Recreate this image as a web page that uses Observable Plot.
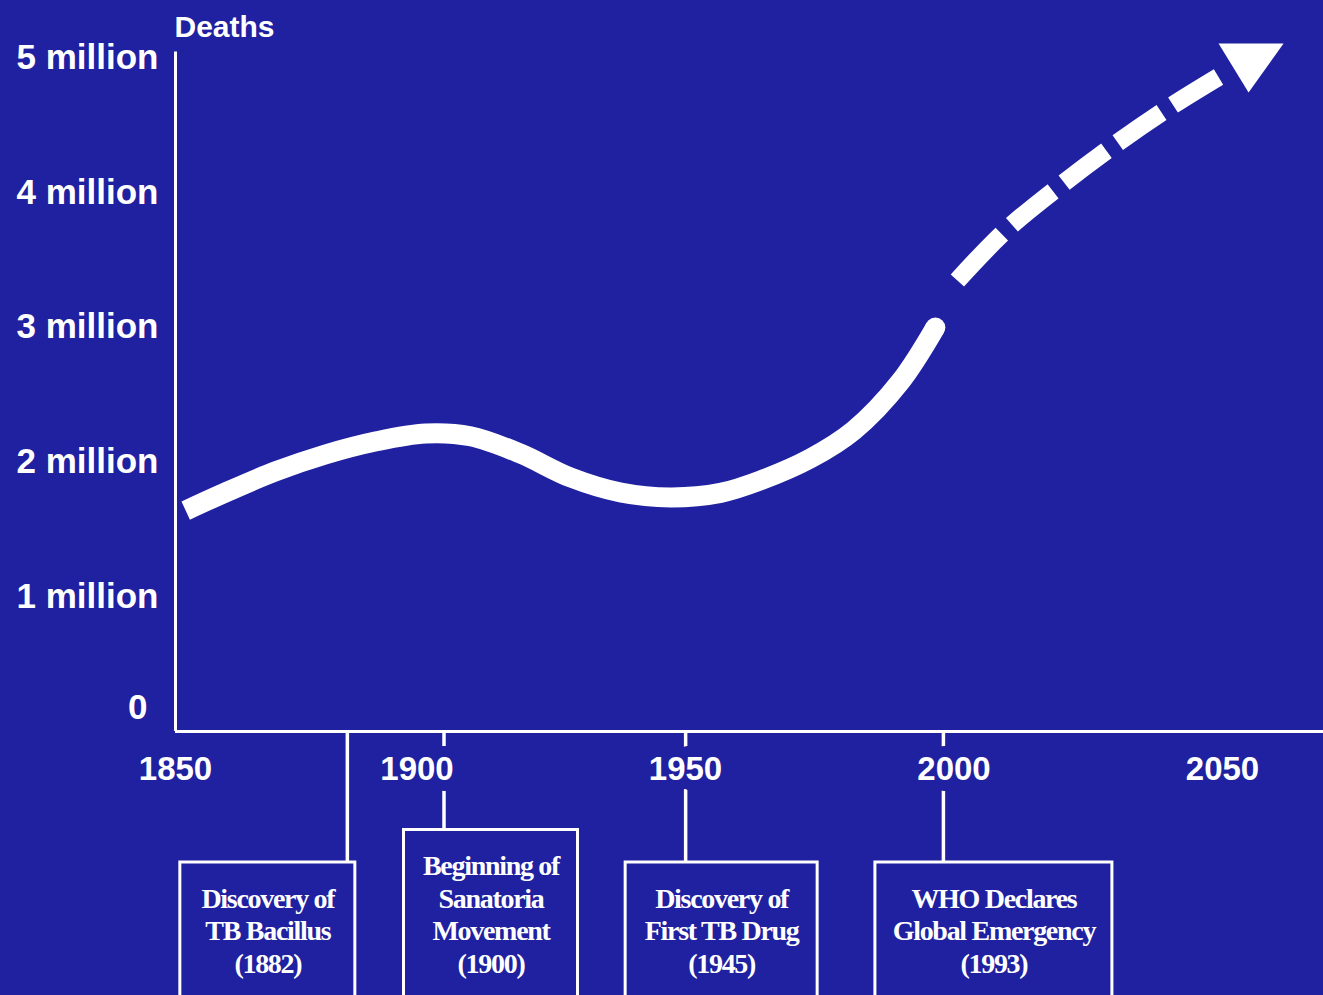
<!DOCTYPE html>
<html>
<head>
<meta charset="utf-8">
<script src="https://cdn.jsdelivr.net/npm/d3@7"></script>
<script src="https://cdn.jsdelivr.net/npm/@observablehq/plot@0.6"></script>
<style>
  html, body { margin: 0; padding: 0; background: #1f21a0; overflow: hidden; }
  g[aria-description="event-labels"] text { letter-spacing: -1.3px; }
</style>
</head>
<body>
<div id="chart"></div>
<script>
// ---------------- DATA ----------------
// Estimated TB deaths (millions)
const solidYears  = [1851.9, 1859.3, 1868.6, 1877.9, 1887.2, 1896.6, 1904.9, 1914.2, 1923.6, 1932.9, 1942.2, 1951.5, 1958.9, 1968.2, 1976.3, 1985.0, 1991.5];
const solidDeaths = [1.639, 1.773, 1.929, 2.055, 2.151, 2.211, 2.19, 2.062, 1.884, 1.773, 1.736, 1.77, 1.862, 2.025, 2.233, 2.596, 2.997];
// Projection (dashed)
const projYears  = [1995.6, 2004.6, 2014.8, 2025.0, 2035.3, 2045.0];
const projDeaths = [3.346, 3.717, 4.05, 4.355, 4.636, 4.874];
const arrowYear = 2050.2;
const arrowDeaths = 4.985;

const yTicks = [0, 1, 2, 3, 4, 5];
const yTickLabels = ["0", "1 million", "2 million", "3 million", "4 million", "5 million"];
const xTicks = [1850, 1900, 1950, 2000, 2050];
const yAxisTitle = "Deaths";

const eventYears = [1882, 1900, 1945, 1993];
const eventLabels = [
  "Discovery of\nTB Bacillus\n(1882)",
  "Beginning of\nSanatoria\nMovement\n(1900)",
  "Discovery of\nFirst TB Drug\n(1945)",
  "WHO Declares\nGlobal Emergency\n(1993)"
];

// ---------------- LAYOUT ----------------
const W = 1323, H = 995;
const BG = "#1f21a0";
const X0PX = 175, PXY = 5.37;   // 1850 at x=175, px per year
const Y0PX = 731, PXM = 134.8;  // 0 at y=731, px per million
const xDomain = [1850 - X0PX / PXY, 1850 + (W - X0PX) / PXY];
const yDomain = [-(H - Y0PX) / PXM, Y0PX / PXM];
const pxToM = (py) => (Y0PX - py) / PXM;

// box edges, px offsets relative to the event stem
const boxEdges = [[-167, 8], [-40, 134], [-60, 132], [-68, 169]];
const LINE_PX = 32.5, LAST_BASELINE_PX = 972, LAST_CENTER_PX = 963, PAD_TOP_PX = 36;

const solid = solidYears.map((year, i) => ({year, deaths: solidDeaths[i]}));
const proj = projYears.map((year, i) => ({year, deaths: projDeaths[i]}));
const events = eventYears.map((year, i) => {
  const n = eventLabels[i].split("\n").length;
  const [l, r] = boxEdges[i];
  return {
    year,
    label: eventLabels[i],
    x1: year + l / PXY,
    x2: year + r / PXY,
    xc: year + (l + r) / 2 / PXY,
    top: pxToM(LAST_CENTER_PX - (n - 1) * LINE_PX - PAD_TOP_PX)
  };
});

const arrowHead = {
  draw(ctx) {
    ctx.moveTo(-32, -16);
    ctx.lineTo(33, -16);
    ctx.lineTo(-2, 33);
    ctx.closePath();
  }
};

const sans = "Liberation Sans, Arial, Helvetica, sans-serif";
const serif = "Liberation Serif, Times New Roman, serif";

const chart = Plot.plot({
  width: W,
  height: H,
  marginTop: 0, marginRight: 0, marginBottom: 0, marginLeft: 0,
  style: {background: BG, color: "white", overflow: "hidden"},
  x: {domain: xDomain, axis: null},
  y: {domain: yDomain, axis: null},
  marks: [
    // axes
    Plot.ruleX([1850], {y1: 0, y2: 5.04, stroke: "white", strokeWidth: 3}),
    Plot.ruleY([0], {x1: 1850, x2: xDomain[1], stroke: "white", strokeWidth: 3}),
    // event stems
    Plot.ruleX(events, {x: "year", y1: 0, y2: "top", stroke: "white", strokeWidth: 3.5}),
    // event boxes
    Plot.rect(events, {x1: "x1", x2: "x2", y1: yDomain[0] - 0.2, y2: "top", fill: "none", stroke: "white", strokeWidth: 3}),
    Plot.text(events, {
      x: "xc", y: pxToM(LAST_BASELINE_PX), text: "label",
      lineAnchor: "bottom", lineHeight: LINE_PX / 28,
      fontFamily: serif, fontWeight: "bold", fontSize: 28, fill: "white",
      ariaDescription: "event-labels"
    }),
    // x tick labels (halo hides stems behind them)
    Plot.text(xTicks.slice(0, 1), {
      x: d => d, y: 0, text: d => String(d), dy: 38,
      fontFamily: sans, fontWeight: "bold", fontSize: 33, fill: "white",
      stroke: BG, strokeWidth: 22, paintOrder: "stroke", strokeLinejoin: "round"
    }),
    Plot.text(xTicks.slice(1), {
      x: d => d, y: 0, text: d => String(d), dy: 38, dx: -27,
      fontFamily: sans, fontWeight: "bold", fontSize: 33, fill: "white",
      stroke: BG, strokeWidth: 22, paintOrder: "stroke", strokeLinejoin: "round"
    }),
    // y tick labels
    Plot.text(yTicks.slice(1), {
      x: 1850, y: d => d, text: (d, i) => yTickLabels[i + 1], dx: -17, textAnchor: "end",
      fontFamily: sans, fontWeight: "bold", fontSize: 35, fill: "white"
    }),
    Plot.text(yTicks.slice(0, 1), {
      x: 1850, y: d => d, text: (d, i) => yTickLabels[i], dx: -28, dy: -24, textAnchor: "end",
      fontFamily: sans, fontWeight: "bold", fontSize: 35, fill: "white"
    }),
    Plot.text([yAxisTitle], {
      x: 1850, y: 5, text: d => d, dy: -30, dx: -1, textAnchor: "start",
      fontFamily: sans, fontWeight: "bold", fontSize: 30, fill: "white"
    }),
    // curve
    Plot.line(solid, {x: "year", y: "deaths", stroke: "white", strokeWidth: 20, curve: "catmull-rom", strokeLinecap: "butt"}),
    Plot.dot(solid.slice(-1), {x: "year", y: "deaths", r: 10, fill: "white", stroke: "none"}),
    Plot.line(proj, {x: "year", y: "deaths", stroke: "white", strokeWidth: 18, curve: "catmull-rom",
      strokeDasharray: "64,14,53,14,53,14,53,14,53,300", strokeLinecap: "butt"}),
    Plot.dot([{year: arrowYear, deaths: arrowDeaths}], {x: "year", y: "deaths", symbol: arrowHead, fill: "white", stroke: "none"})
  ]
});
document.getElementById("chart").appendChild(chart);
</script>
</body>
</html>
